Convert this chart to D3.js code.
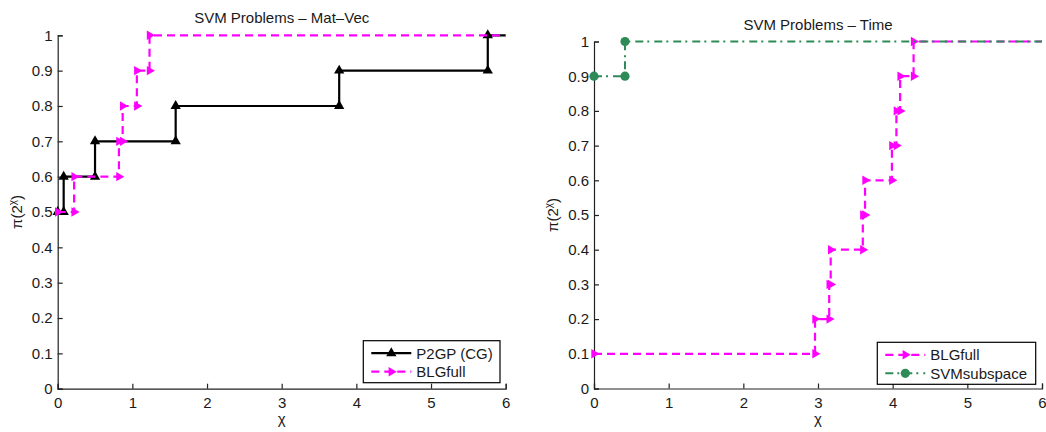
<!DOCTYPE html>
<html>

<head>
    <script src="https://d3js.org/d3.v7.min.js"></script>
    <style>
        body {
            margin: 0;
            background-color: #ffffff;
            font-family: 'Liberation Sans', Arial, sans-serif;
        }
    </style>
    <title>SVM Problems</title>
</head>

<body>
    <svg id="chart" width="1046" height="432"></svg>

    <script>
        // tick values / labels (same for both panels)
        var xTicks = [0, 1, 2, 3, 4, 5, 6];
        var yTicks = [0, 0.1, 0.2, 0.3, 0.4, 0.5, 0.6, 0.7, 0.8, 0.9, 1];
        var yTickLabels = ["0", "0.1", "0.2", "0.3", "0.4", "0.5", "0.6", "0.7", "0.8", "0.9", "1"];

        // left panel: Mat-Vec
        var matvecP2gpX = [0, 0.08, 0.08, 0.5, 0.5, 1.58, 1.58, 3.77, 3.77, 5.76, 5.76, 6];
        var matvecP2gpY = [0.5, 0.5, 0.6, 0.6, 0.7, 0.7, 0.8, 0.8, 0.9, 0.9, 1, 1];
        var matvecBlgX = [0, 0.22, 0.22, 0.82, 0.82, 0.87, 0.87, 1.06, 1.06, 1.23, 1.23, 6];
        var matvecBlgY = [0.5, 0.5, 0.6, 0.6, 0.7, 0.7, 0.8, 0.8, 0.9, 0.9, 1, 1];

        // right panel: Time
        var timeBlgX = [0, 2.96, 2.96, 3.15, 3.15, 3.17, 3.17, 3.6, 3.6, 3.63, 3.63, 3.99, 3.99, 4.05, 4.05, 4.1, 4.1, 4.28, 4.28, 6];
        var timeBlgY = [0.1, 0.1, 0.2, 0.2, 0.3, 0.3, 0.4, 0.4, 0.5, 0.5, 0.6, 0.6, 0.7, 0.7, 0.8, 0.8, 0.9, 0.9, 1, 1];
        var timeSvmX = [0, 0.415, 0.415, 6];
        var timeSvmY = [0.9, 0.9, 1, 1];

        var svg = d3.select("#chart");
        var axisColor = "#222";
        var fontSize = "15px";

        var styles = {
            p2gp: { color: "#000000", dash: null, marker: "up", width: 2.2 },
            blg: { color: "#ff00ff", dash: "8,5", marker: "right", width: 2.2 },
            svm: { color: "#2e8b57", dash: "8,4,2,5", marker: "circle", width: 2 }
        };

        function markerPath(kind) {
            if (kind === "circle") return d3.symbol(d3.symbolCircle, 66)();
            if (kind === "up") return d3.symbol(d3.symbolTriangle, 46)();
            return d3.symbol(d3.symbolTriangle, 38)();
        }
        function markerTransform(kind, x, y) {
            var t = "translate(" + x + "," + y + ")";
            if (kind === "right") t += " rotate(90)";
            return t;
        }

        function drawPanel(opts) {
            var x = d3.scaleLinear().domain([0, 6]).range([opts.left, opts.right]);
            var y = d3.scaleLinear().domain([0, 1]).range([opts.bottom, opts.top]);
            var g = svg.append("g");

            // axes, ticks pointing inward like matlab
            var xAxis = d3.axisBottom(x).tickValues(xTicks).tickSize(-5).tickPadding(9)
                .tickFormat(d3.format("d"));
            var yAxis = d3.axisLeft(y).tickValues(yTicks).tickSize(-5).tickPadding(5)
                .tickFormat(function (d, i) { return yTickLabels[i]; });

            g.append("g")
                .attr("transform", "translate(0," + opts.bottom + ")")
                .call(xAxis);
            g.append("g")
                .attr("transform", "translate(" + opts.left + ",0)")
                .call(yAxis);
            g.selectAll(".domain")
                .attr("stroke", axisColor)
                .attr("stroke-width", 1.2);
            g.selectAll(".tick line")
                .attr("stroke", axisColor)
                .attr("stroke-width", 1.2);
            g.selectAll(".tick text")
                .attr("fill", "#1a1a1a")
                .style("font-family", "'Liberation Sans', Arial, sans-serif")
                .style("font-size", fontSize);

            // series
            opts.series.forEach(function (s) {
                var st = styles[s.key];
                var pts = s.xs.map(function (v, i) { return [v, s.ys[i]]; });
                g.append("path")
                    .datum(pts)
                    .attr("fill", "none")
                    .attr("stroke", st.color)
                    .attr("stroke-width", st.width)
                    .attr("stroke-dasharray", st.dash)
                    .attr("d", d3.line()
                        .x(function (d) { return x(d[0]); })
                        .y(function (d) { return y(d[1]); }));
                g.selectAll(null)
                    .data(pts.slice(0, pts.length - 1))
                    .enter()
                    .append("path")
                    .attr("d", markerPath(st.marker))
                    .attr("transform", function (d) { return markerTransform(st.marker, x(d[0]), y(d[1])); })
                    .attr("fill", st.color);
            });

            // title
            g.append("text")
                .attr("x", (opts.left + opts.right) / 2)
                .attr("y", opts.top - 12)
                .attr("text-anchor", "middle")
                .style("font-size", fontSize)
                .attr("fill", "#1a1a1a")
                .text(opts.title);

            // x label
            g.append("text")
                .attr("x", (opts.left + opts.right) / 2)
                .attr("y", 424)
                .attr("text-anchor", "middle")
                .style("font-size", "15px")
                .attr("fill", "#1a1a1a")
                .text("\u03c7");

            // y label pi(2^chi)
            var yl = g.append("text")
                .attr("transform", "translate(" + (opts.left - 36) + "," + ((opts.top + opts.bottom) / 2) + ") rotate(-90)")
                .attr("text-anchor", "middle")
                .style("font-size", fontSize)
                .attr("fill", "#1a1a1a");
            yl.append("tspan").text("\u03c0(2");
            yl.append("tspan").attr("dy", -6).style("font-size", "10px").text("\u03c7");
            yl.append("tspan").attr("dy", 6).text(")");

            // legend
            var lg = g.append("g").attr("transform", "translate(" + opts.legend.x + "," + opts.legend.y + ")");
            lg.append("rect")
                .attr("width", opts.legend.w)
                .attr("height", 42)
                .attr("fill", "#ffffff")
                .attr("stroke", "#000")
                .attr("stroke-width", 1.2);
            opts.series.forEach(function (s, i) {
                var st = styles[s.key];
                var ly = 12.5 + i * 18.5;
                lg.append("line")
                    .attr("x1", 8).attr("x2", 48)
                    .attr("y1", ly).attr("y2", ly)
                    .attr("stroke", st.color)
                    .attr("stroke-width", st.width)
                    .attr("stroke-dasharray", st.dash);
                lg.append("path")
                    .attr("d", markerPath(st.marker))
                    .attr("transform", markerTransform(st.marker, 28, ly))
                    .attr("fill", st.color);
                lg.append("text")
                    .attr("x", 53)
                    .attr("y", ly + 5.5)
                    .style("font-size", fontSize)
                    .attr("fill", "#1a1a1a")
                    .text(s.name);
            });
        }

        drawPanel({
            left: 57.7, right: 505.7, top: 35.3, bottom: 388.7,
            title: "SVM Problems \u2013 Mat\u2013Vec",
            legend: { x: 363.3, y: 340.7, w: 136.7 },
            series: [
                { key: "p2gp", name: "P2GP (CG)", xs: matvecP2gpX, ys: matvecP2gpY },
                { key: "blg", name: "BLGfull", xs: matvecBlgX, ys: matvecBlgY }
            ]
        });

        drawPanel({
            left: 594, right: 1042, top: 41.5, bottom: 388.5,
            title: "SVM Problems \u2013 Time",
            legend: { x: 877.3, y: 342.3, w: 158.4 },
            series: [
                { key: "blg", name: "BLGfull", xs: timeBlgX, ys: timeBlgY },
                { key: "svm", name: "SVMsubspace", xs: timeSvmX, ys: timeSvmY }
            ]
        });
    </script>
</body>
</html>
